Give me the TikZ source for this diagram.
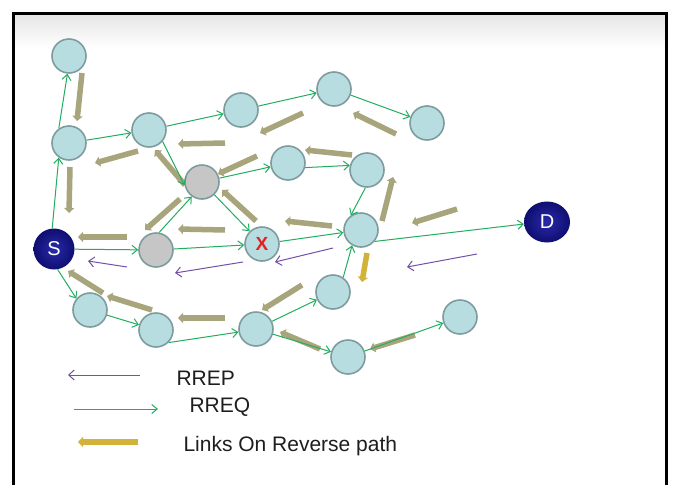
\documentclass[tikz,border=0pt]{standalone}
\usepackage{fontspec}
\setmainfont{Liberation Sans}
\usetikzlibrary{arrows.meta,shapes.geometric}

\definecolor{nodefill}{HTML}{B8DDE1}
\definecolor{nodeedge}{HTML}{7E9C9E}
\definecolor{grayfill}{HTML}{C6C6C6}
\definecolor{navyin}{HTML}{2A2AA8}
\definecolor{navyout}{HTML}{0E0E72}
\definecolor{reqgreen}{HTML}{22AE60}
\definecolor{reppurple}{HTML}{7550A8}
\definecolor{khaki}{HTML}{A8A57C}
\definecolor{goldlink}{HTML}{D2B23A}
\definecolor{xred}{HTML}{E02424}
\definecolor{labeltext}{HTML}{1E1E1E}

\begin{document}
\begin{tikzpicture}[x=1pt,y=-1pt,
  hop/.style={circle, minimum size=34pt, inner sep=0pt, fill=nodefill, draw=nodeedge, line width=1.6pt},
  ghop/.style={hop, fill=grayfill},
  endpt/.style={inner sep=0pt, inner color=navyin, outer color=navyout, text=white,
                font=\fontsize{20}{20}\selectfont},
  req/.style={draw=reqgreen, line width=1pt, -{Straight Barb[length=5.5pt,width=9pt]}},
  rep/.style={draw=reppurple, line width=1pt, -{Straight Barb[length=5.5pt,width=10pt]}},
  revlink/.style={draw=khaki, line width=5.5pt, -{Triangle[length=5pt,width=10pt]}},
  goldrev/.style={revlink, draw=goldlink},
  legendtext/.style={anchor=west, text=labeltext, font=\fontsize{21}{24}\selectfont}]

\useasboundingbox (0,0) rectangle (675,485);
\fill[white] (0,0) rectangle (675,485);
% soft grey band under the top edge of the frame
\shade[top color=black!10, bottom color=white] (14,14) rectangle (666,48);
% frame, open at the bottom
\draw[line width=3pt] (13.5,485) -- (13.5,13.5) -- (666.5,13.5) -- (666.5,485);

% links on the reverse path (drawn first so the nodes sit on top)
\draw[revlink] (82,73) -- (77,121);
\draw[revlink] (70,167) -- (69,213);
\draw[revlink] (138,151) -- (95,163);
\draw[revlink] (225,143) -- (178,144);
\draw[revlink] (303,113) -- (260,133);
\draw[revlink] (185,185) -- (155,150);
\draw[revlink] (257,156) -- (218,174);
\draw[revlink] (180,199) -- (145,230);
\draw[revlink] (256,221) -- (222,190);
\draw[revlink] (225,230) -- (178,229);
\draw[revlink] (127,237) -- (78,237);
\draw[revlink] (332,226) -- (285,221);
\draw[revlink] (396,134) -- (353,113);
\draw[revlink] (352,155) -- (305,150);
\draw[revlink] (382,221) -- (393,177);
\draw[revlink] (457,209) -- (412,223);
\draw[revlink] (152,310) -- (107,296);
\draw[revlink] (103,293) -- (68,271);
\draw[revlink] (225,318) -- (178,318);
\draw[revlink] (302,285) -- (262,310);
\draw[revlink] (320,349) -- (280,332);
\draw[goldrev] (367,253) -- (362,282);
\draw[revlink] (415,335) -- (370,349);

% route reply messages
\draw[rep] (127,267) -- (88,261);
\draw[rep] (243,262) -- (175,273);
\draw[rep] (333,248) -- (275,262);
\draw[rep] (477,254) -- (407,267);

% nodes
\node[hop] (N1) at (69,56) {};
\node[hop] (N2) at (69,143) {};
\node[hop] (N3) at (149,130) {};
\node[hop] (N4) at (241,110) {};
\node[hop] (N5) at (334,89) {};
\node[hop] (N6) at (427,123) {};
\node[ghop] (G1) at (202,182) {};
\node[hop] (N7) at (288,163) {};
\node[hop] (N8) at (367,170) {};
\node[ghop] (G2) at (156,250) {};
\node[hop] (X) at (262,244) {\color{xred}\bfseries\fontsize{19}{19}\selectfont X};
\node[hop] (N9) at (361,230) {};
\node[hop] (N10) at (90,310) {};
\node[hop] (N11) at (156,330) {};
\node[hop] (N12) at (256,329) {};
\node[hop] (N13) at (333,292) {};
\node[hop] (N14) at (348,357) {};
\node[hop] (N15) at (460,317) {};
\node[endpt, circle, minimum size=41pt] (S) at (54,249) {S};
\node[endpt, ellipse, minimum width=46pt, minimum height=41pt] (D) at (547,222) {D};

% route request flooding
\draw[req] (S.95) -- (N2.235);
\draw[req] (N2.125) -- (N1.265);
\draw[req] (N2) -- (N3);
\draw[req] (N3) -- (N4);
\draw[req] (N4) -- (N5);
\draw[req] (N5) -- (N6);
\draw[req] (N3.320) -- (G1.190);
\draw[req] (G1) -- (N7);
\draw[req] (G1) -- (X);
\draw[req] (G2.80) -- (G1.235);
\draw[req] (S) -- (G2);
\draw[req] (G2) -- (X);
\draw[req] (N7.345) -- (N8.165);
\draw[req] (N8.265) -- (N9.125);
\draw[req] (X) -- (N9);
\draw[req] (N9.320) -- (D.185);
\draw[req] (N13.55) -- (N9.240);
\draw[req] (S.280) -- (N10.140);
\draw[req] (N10) -- (N11);
\draw[req] (N11.315) -- (N12.190);
\draw[req] (N12) -- (N13);
\draw[req] (N12) -- (N14);
\draw[req] (N14) -- (N15);

% legend
\coordinate (repA) at (140,375);
\coordinate (repB) at (68,375);
\coordinate (reqA) at (74,409);
\coordinate (reqB) at (158,409);
\coordinate (revA) at (138,442);
\coordinate (revB) at (78,442);
\draw[rep] (repA) -- (repB);
\draw[req] (reqA) -- (reqB);
\draw[goldrev] (revA) -- (revB);
\node[legendtext] (repLabel) at (173,378) {RREP};
\node[legendtext] (reqLabel) at (186,407) {RREQ};
\node[legendtext] (revLabel) at (180,446) {Links On Reverse path};
\end{tikzpicture}
\end{document}
